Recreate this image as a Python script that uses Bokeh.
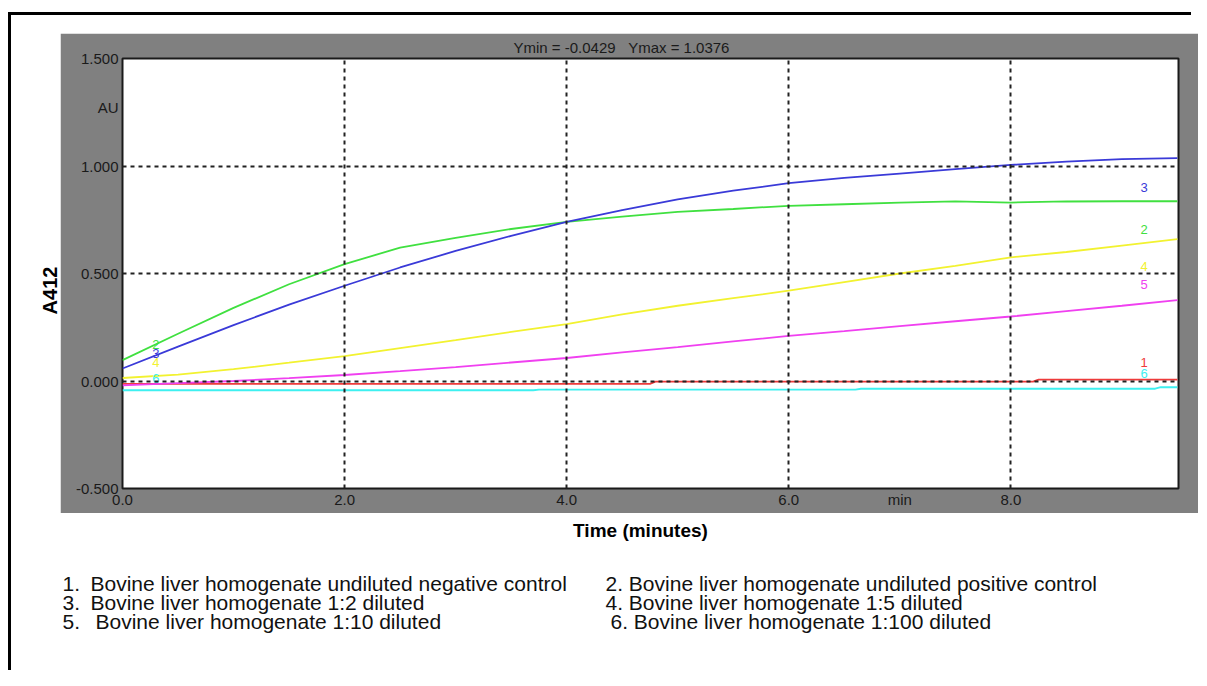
import math
import numpy as np
from bokeh.plotting import figure
from bokeh.layouts import row, column
from bokeh.models import (FixedTicker, Label, Range1d, ColumnDataSource, Title,
                          Spacer)
from bokeh.core.properties import value
from bokeh.embed import file_html
from bokeh.resources import INLINE

# ---------------- data ----------------
time_min = [0.0, 0.5, 1.0, 1.5, 2.0, 2.5, 3.0, 3.5, 4.0, 4.5,
            5.0, 5.5, 6.0, 6.5, 7.0, 7.5, 8.0, 8.5, 9.0, 9.5]
s3_blue = [0.058, 0.16, 0.26, 0.355, 0.443, 0.528, 0.605, 0.675, 0.74, 0.795,
           0.845, 0.885, 0.92, 0.945, 0.965, 0.985, 1.005, 1.02, 1.032, 1.037]
s2_green = [0.097, 0.22, 0.34, 0.45, 0.544, 0.62, 0.666, 0.707, 0.74, 0.765,
            0.787, 0.80, 0.815, 0.822, 0.83, 0.835, 0.83, 0.835, 0.836, 0.836]
s4_yellow = [0.014, 0.03, 0.055, 0.085, 0.116, 0.153, 0.19, 0.228, 0.265, 0.31,
             0.35, 0.385, 0.42, 0.46, 0.50, 0.535, 0.575, 0.60, 0.63, 0.66]
s5_magenta = [-0.02, -0.01, 0.0, 0.013, 0.028, 0.046, 0.065, 0.086, 0.107, 0.133,
              0.158, 0.184, 0.21, 0.232, 0.255, 0.278, 0.30, 0.325, 0.35, 0.376]
s1_red_time = [0.0, 4.75, 4.8, 8.2, 8.25, 9.5]
s1_red = [-0.013, -0.013, -0.003, -0.003, 0.006, 0.006]
s6_cyan_time = [0.0, 3.7, 3.75, 6.6, 6.65, 9.3, 9.35, 9.5]
s6_cyan = [-0.043, -0.043, -0.040, -0.040, -0.036, -0.036, -0.029, -0.029]

# tick values / labels (instrument units "min" and "AU" sit among the tick labels)
x_ticks = [0, 2, 4, 6, 7, 8]
x_tick_labels = ["0.0", "2.0", "4.0", "6.0", "min", "8.0"]
y_ticks = [-0.5, 0.0, 0.5, 1.0, 1.27, 1.5]
y_tick_labels = ["-0.500", "0.000", "0.500", "1.000", "AU", "1.500"]
x_grid_ticks = [2, 4, 6, 8]
y_grid_ticks = [0.0, 0.5, 1.0]

header_text = "Ymin = -0.0429\u00a0\u00a0\u00a0Ymax = 1.0376"
x_title = "Time (minutes)"
y_title = "A412"

legend_numbers = ["1.", "3.", "5."]
legend_col1 = ["Bovine liver homogenate undiluted negative control",
               "Bovine liver homogenate 1:2 diluted",
               "Bovine liver homogenate 1:10 diluted"]
legend_col2 = ["2. Bovine liver homogenate undiluted positive control",
               "4. Bovine liver homogenate 1:5 diluted",
               "6. Bovine liver homogenate 1:100 diluted"]

# ---------------- styles ----------------
FONT = "Liberation Sans"
GRAY = "#808080"
DARK = "#1a1a1a"
series = [
    # id, color, times, values, start-label offset px (None = none), end-label offset px
    ("1", "#ee3b3b", s1_red_time, s1_red, None, -17),
    ("6", "#3ef0f0", s6_cyan_time, s6_cyan, -12, -15),
    ("5", "#f040f0", time_min, s5_magenta, None, -19),
    ("4", "#f2f230", time_min, s4_yellow, -13, 24),
    ("2", "#40e040", time_min, s2_green, 0, 28),
    ("3", "#3a3ad8", time_min, s3_blue, -2, 29),
]
label_t_start = 0.3
label_t_end = 9.2


def blank(w, h):
    f = figure(width=w, height=h, output_backend="svg", toolbar_location=None,
               x_range=Range1d(0, 1), y_range=Range1d(0, 1),
               x_axis_type=None, y_axis_type=None, min_border=0,
               outline_line_color=None, background_fill_color="white",
               border_fill_color="white")
    f.xgrid.visible = False
    f.ygrid.visible = False
    return f


def canvas_label(f, x, y, text, size, align="left", color="#111111",
                 style="normal", angle=0.0):
    f.add_layout(Label(x=x, y=y, x_units="canvas", y_units="canvas", text=text,
                       text_font=FONT, text_font_size=size, text_color=color,
                       text_align=align, text_baseline="middle",
                       text_font_style=style, angle=angle))


def bar(w, h):
    return Spacer(width=w, height=h, styles={"background-color": "black"})


# ---------------- main instrument plot (gray panel) ----------------
p = figure(width=1138, height=480, output_backend="svg", toolbar_location=None,
           x_range=Range1d(0, 9.51), y_range=Range1d(-0.5, 1.5),
           min_border_left=62, min_border_right=20, min_border_top=24,
           min_border_bottom=25, background_fill_color="white",
           border_fill_color=GRAY)
p.outline_line_color = DARK
p.outline_line_width = 2

for ax, ticks, labels in [(p.xaxis[0], x_ticks, x_tick_labels),
                          (p.yaxis[0], y_ticks, y_tick_labels)]:
    ax.ticker = FixedTicker(ticks=ticks)
    ax.major_label_overrides = {t: s for t, s in zip(ticks, labels)}
    ax.axis_line_color = None
    ax.major_tick_line_color = None
    ax.minor_tick_line_color = None
    ax.major_tick_in = 0
    ax.major_tick_out = 0
    ax.minor_tick_in = 0
    ax.minor_tick_out = 0
    ax.major_label_text_font = FONT
    ax.major_label_text_font_size = "15px"
    ax.major_label_text_color = DARK
p.xaxis.major_label_standoff = 2
p.yaxis.major_label_standoff = 4

p.add_layout(Title(text=header_text, align="left", offset=391, standoff=6,
                   text_font=FONT, text_font_size="15px",
                   text_font_style="normal", text_color=DARK), "above")

p.xgrid.ticker = FixedTicker(ticks=x_grid_ticks)
p.ygrid.ticker = FixedTicker(ticks=y_grid_ticks)
for g in (p.xgrid[0], p.ygrid[0]):
    g.grid_line_color = "#222222"
    g.grid_line_width = 2
    g.grid_line_dash = "4 4"
    g.level = "annotation"

lab_x, lab_y, lab_off, lab_txt, lab_col = [], [], [], [], []
for cid, col, tt, vv, off_s, off_e in series:
    p.line(tt, vv, line_color=col, line_width=1.8)
    if off_s is not None:
        lab_x.append(label_t_start)
        lab_y.append(float(np.interp(label_t_start, tt, vv)))
        lab_off.append(off_s); lab_txt.append(cid); lab_col.append(col)
    lab_x.append(label_t_end)
    lab_y.append(float(np.interp(label_t_end, tt, vv)))
    lab_off.append(off_e); lab_txt.append(cid); lab_col.append(col)
src = ColumnDataSource(dict(x=lab_x, y=lab_y, off=lab_off, t=lab_txt, c=lab_col))
p.text(x="x", y="y", text="t", y_offset="off", text_color="c", source=src,
       text_font=value(FONT), text_font_size="13px", text_align="center",
       text_baseline="middle")

# ---------------- surrounding white page ----------------
left_fig = blank(49, 480)
canvas_label(left_fig, 38, 257, y_title, "20px", "center", "black", "bold",
             angle=math.pi / 2)

bottom_fig = blank(1180, 157)
canvas_label(bottom_fig, 629, 17, x_title, "19px", "center", "black", "bold")

row_y = [70, 89, 108]
col1_num_x = [51, 51, 51]
col1_txt_x = [79, 79, 84]
col2_x = [594, 594, 599]
for i in range(3):
    canvas_label(bottom_fig, col1_num_x[i], row_y[i], legend_numbers[i], "21px")
    canvas_label(bottom_fig, col1_txt_x[i], row_y[i], legend_col1[i], "21px")
    canvas_label(bottom_fig, col2_x[i], row_y[i], legend_col2[i], "21px")

inner = column(Spacer(width=1180, height=18), row(left_fig, p), bottom_fig)
page = row(Spacer(width=8, height=670),
           column(Spacer(width=1183, height=12), bar(1183, 3),
                  row(bar(3, 655), inner)))

open("out.html", "w").write(file_html(page, INLINE))
